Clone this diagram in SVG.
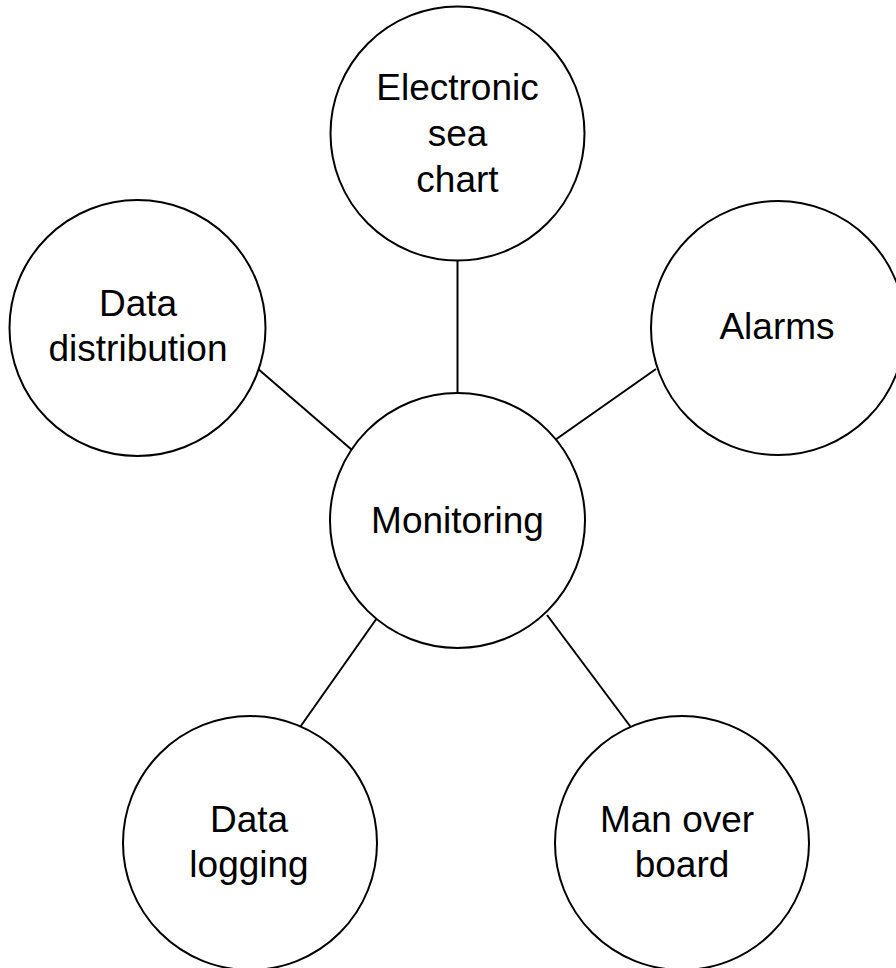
<svg xmlns="http://www.w3.org/2000/svg" width="896" height="968" viewBox="0 0 896 968">
  <style>
    .node circle { fill: #ffffff; stroke: #000000; stroke-width: 2; }
    .node text { font-family: "Liberation Sans", Arial, sans-serif; font-size: 37px; fill: #000000; text-anchor: middle; }
    #connectors line { stroke: #000000; stroke-width: 2; }
  </style>
  <rect width="896" height="968" fill="#ffffff"/>

  <g id="connectors">
    <line x1="457.5" y1="260" x2="457.5" y2="393"/>
    <line x1="257" y1="368" x2="352" y2="450"/>
    <line x1="656" y1="369" x2="555" y2="440"/>
    <line x1="377" y1="618" x2="298" y2="730"/>
    <line x1="547" y1="615" x2="633" y2="730"/>
  </g>

  <g id="node-electronic-sea-chart" class="node">
    <circle cx="457.5" cy="133.5" r="127"/>
    <text x="457.5" y="100">Electronic</text>
    <text x="457.5" y="146">sea</text>
    <text x="457.5" y="192">chart</text>
  </g>

  <g id="node-alarms" class="node">
    <circle cx="778" cy="328" r="127"/>
    <text x="777" y="339">Alarms</text>
  </g>

  <g id="node-data-distribution" class="node">
    <circle cx="137.5" cy="328" r="128"/>
    <text x="138" y="316">Data</text>
    <text x="138" y="361">distribution</text>
  </g>

  <g id="node-monitoring" class="node">
    <circle cx="457.5" cy="520.5" r="127.5"/>
    <text x="457.5" y="533">Monitoring</text>
  </g>

  <g id="node-data-logging" class="node">
    <circle cx="250" cy="843" r="127"/>
    <text x="249" y="832">Data</text>
    <text x="249" y="877">logging</text>
  </g>

  <g id="node-man-over-board" class="node">
    <circle cx="682" cy="843" r="127"/>
    <text x="677" y="832">Man over</text>
    <text x="682" y="877">board</text>
  </g>
</svg>
